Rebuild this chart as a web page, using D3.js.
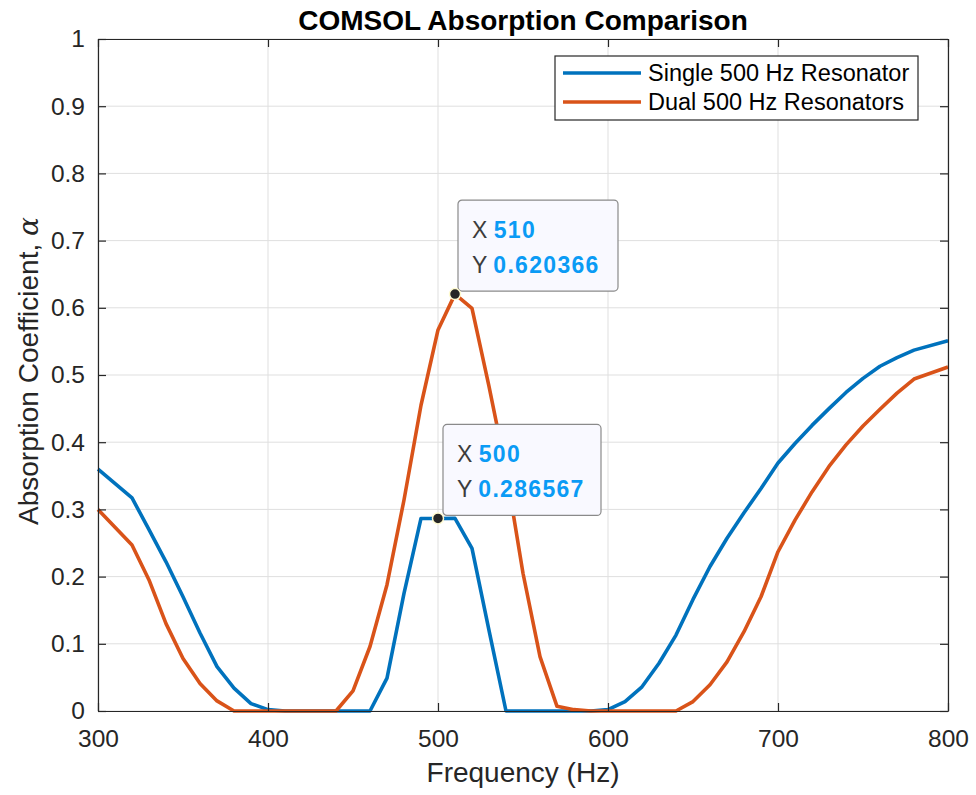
<!DOCTYPE html>
<html lang="en">
  <head>
    <meta charset="UTF-8" />
    <title>COMSOL Absorption Comparison</title>
    <script src="https://cdn.jsdelivr.net/npm/d3@7/dist/d3.min.js"></script>
    <style>
      body { margin: 0; background: #fff; }
      text { font-family: "Liberation Sans", Arial, Helvetica, sans-serif; }
    </style>
  </head>
  <body>
    <div id="wrapper"></div>
    <script>
      // frequencies (Hz)
      const freqs = [300, 320, 330, 340, 350, 360, 370, 380, 390, 400, 410, 420, 430, 440, 450, 460, 470, 480, 490, 500,
        510, 520, 530, 540, 550, 560, 570, 580, 590, 600, 610, 620, 630, 640, 650, 660, 670, 680, 690, 700,
        710, 720, 730, 740, 750, 760, 770, 780, 800];
      const single = [0.360, 0.317, 0.270, 0.222, 0.170, 0.116, 0.066, 0.034, 0.011, 0.002, 0, 0, 0, 0, 0, 0, 0.049, 0.175, 0.286567, 0.286567,
        0.2866, 0.242, 0.120, 0, 0, 0, 0, 0, 0, 0.002, 0.014, 0.036, 0.071, 0.113, 0.166, 0.215, 0.257, 0.295, 0.331, 0.369,
        0.398, 0.425, 0.450, 0.474, 0.495, 0.513, 0.526, 0.537, 0.551];
      const dual = [0.300, 0.247, 0.195, 0.130, 0.078, 0.041, 0.015, 0, 0, 0, 0, 0, 0, 0, 0.030, 0.096, 0.188, 0.314, 0.455, 0.567,
        0.620366, 0.599, 0.483, 0.359, 0.205, 0.081, 0.007, 0.002, 0, 0, 0, 0, 0, 0, 0.014, 0.039, 0.073, 0.118, 0.170, 0.237,
        0.284, 0.326, 0.364, 0.396, 0.424, 0.449, 0.473, 0.494, 0.512];
      const seriesNames = ["Single 500 Hz Resonator", "Dual 500 Hz Resonators"];
      const xTicks = [300, 400, 500, 600, 700, 800];
      const yTicks = [0, 0.1, 0.2, 0.3, 0.4, 0.5, 0.6, 0.7, 0.8, 0.9, 1];
      const tips = [
        { x: 510, y: 0.620366, series: 1 },
        { x: 500, y: 0.286567, series: 0 },
      ];

      const dimensions = {
        width: 976,
        height: 795,
        margin: { top: 39, right: 28, bottom: 84, left: 98 },
      };
      dimensions.boundedWidth = dimensions.width - dimensions.margin.left - dimensions.margin.right;
      dimensions.boundedHeight = dimensions.height - dimensions.margin.top - dimensions.margin.bottom;

      const colors = ["#0072BD", "#D95319"];
      const axisColor = "#262626";

      const svg = d3.select("#wrapper").append("svg")
        .attr("width", dimensions.width)
        .attr("height", dimensions.height);

      const bounds = svg.append("g")
        .attr("transform", `translate(${dimensions.margin.left},${dimensions.margin.top})`);

      const xScale = d3.scaleLinear().domain([300, 800]).range([0, dimensions.boundedWidth]);
      const yScale = d3.scaleLinear().domain([0, 1]).range([dimensions.boundedHeight, 0]);

      // grid
      bounds.append("g").selectAll("line.gx").data(xTicks).join("line")
        .attr("x1", d => xScale(d)).attr("x2", d => xScale(d))
        .attr("y1", 0).attr("y2", dimensions.boundedHeight)
        .attr("stroke", "#dfdfdf").attr("stroke-width", 1);
      bounds.append("g").selectAll("line.gy").data(yTicks).join("line")
        .attr("y1", d => yScale(d)).attr("y2", d => yScale(d))
        .attr("x1", 0).attr("x2", dimensions.boundedWidth)
        .attr("stroke", "#dfdfdf").attr("stroke-width", 1);

      // lines
      const data = [single, dual];
      const lineGenerator = d3.line()
        .x((d, i) => xScale(freqs[i]))
        .y(d => yScale(d));
      data.forEach((s, k) => {
        bounds.append("path")
          .attr("d", lineGenerator(s))
          .attr("fill", "none")
          .attr("stroke", colors[k])
          .attr("stroke-width", 3.6)
          .attr("stroke-linejoin", "round");
      });

      // axes (ticks inside, box)
      const xAxis = bounds.append("g")
        .attr("transform", `translate(0,${dimensions.boundedHeight})`)
        .call(d3.axisBottom(xScale).tickValues(xTicks).tickSizeInner(-8).tickSizeOuter(0).tickPadding(19));
      const xAxisTop = bounds.append("g")
        .call(d3.axisTop(xScale).tickValues(xTicks).tickSizeInner(-8).tickSizeOuter(0).tickFormat(""));
      const yAxis = bounds.append("g")
        .call(d3.axisLeft(yScale).tickValues(yTicks).tickSizeInner(-8).tickSizeOuter(0).tickPadding(13)
          .tickFormat(d => d === 0 || d === 1 ? d3.format("d")(d) : d3.format(".1f")(d)));
      const yAxisRight = bounds.append("g")
        .attr("transform", `translate(${dimensions.boundedWidth},0)`)
        .call(d3.axisRight(yScale).tickValues(yTicks).tickSizeInner(-8).tickSizeOuter(0).tickFormat(""));
      [xAxis, xAxisTop, yAxis, yAxisRight].forEach(a => {
        a.select(".domain").attr("stroke", axisColor).attr("stroke-width", 1.2);
        a.selectAll(".tick line").attr("stroke", axisColor).attr("stroke-width", 1.2);
        a.selectAll(".tick text").attr("fill", axisColor).style("font-size", "24.5px")
          .style("font-family", "'Liberation Sans', Arial, sans-serif");
      });
      xAxis.selectAll(".tick text").attr("dy", "0.71em");

      // titles
      svg.append("text")
        .attr("x", dimensions.margin.left + dimensions.boundedWidth / 2)
        .attr("y", 30)
        .attr("text-anchor", "middle")
        .style("font-size", "28px").style("font-weight", "bold")
        .attr("fill", "#000")
        .text("COMSOL Absorption Comparison");
      svg.append("text")
        .attr("x", dimensions.margin.left + dimensions.boundedWidth / 2)
        .attr("y", 782)
        .attr("text-anchor", "middle")
        .style("font-size", "28px")
        .attr("fill", axisColor)
        .text("Frequency (Hz)");
      const yLabel = svg.append("text")
        .attr("transform", `translate(38,${dimensions.margin.top + dimensions.boundedHeight / 2 - 4}) rotate(-90)`)
        .attr("text-anchor", "middle")
        .style("font-size", "28px")
        .attr("fill", axisColor);
      yLabel.append("tspan").text("Absorption Coefficient, ");
      yLabel.append("tspan").text("α").style("font-style", "italic")
        .style("font-family", "'DejaVu Serif', 'Liberation Serif', serif");

      // legend
      const legend = bounds.append("g").attr("transform", `translate(${555 - dimensions.margin.left},${56 - dimensions.margin.top})`);
      legend.append("rect")
        .attr("width", 363).attr("height", 64)
        .attr("fill", "#fff").attr("stroke", axisColor).attr("stroke-width", 1.2);
      seriesNames.forEach((name, k) => {
        const ly = 17 + k * 29;
        legend.append("line")
          .attr("x1", 8).attr("x2", 86).attr("y1", ly).attr("y2", ly)
          .attr("stroke", colors[k]).attr("stroke-width", 3.6);
        legend.append("text")
          .attr("x", 93).attr("y", ly).attr("dy", "0.35em")
          .style("font-size", "23.5px").attr("fill", "#000")
          .text(name);
      });

      // data tips
      const tipBoxes = [
        { dx: 3, dy: -94, w: 160, h: 91 },
        { dx: 5, dy: -94, w: 158, h: 91 },
      ];
      tips.forEach((t, i) => {
        const px = xScale(t.x), py = yScale(t.y);
        const b = tipBoxes[i];
        const g = bounds.append("g").attr("transform", `translate(${px + b.dx},${py + b.dy})`);
        g.append("rect")
          .attr("width", b.w).attr("height", b.h).attr("rx", 4)
          .attr("fill", "#f9f9ff").attr("stroke", "#8a8a8a").attr("stroke-width", 1.2);
        const rows = [["X", String(t.x)], ["Y", String(t.y)]];
        rows.forEach((r, j) => {
          const tx = g.append("text")
            .attr("x", 14).attr("y", 38 + j * 35)
            .style("font-size", "23px");
          tx.append("tspan").text(r[0] + " ").attr("fill", "#3c3c3c");
          tx.append("tspan").text(r[1]).attr("fill", "#0a9bf5").style("font-weight", "bold")
            .style("letter-spacing", "1.3px");
        });
        bounds.append("circle")
          .attr("cx", px).attr("cy", py).attr("r", 5.5)
          .attr("fill", "#262626").attr("stroke", "#fffbd0").attr("stroke-width", 1.5);
      });
    </script>
  </body>
</html>
